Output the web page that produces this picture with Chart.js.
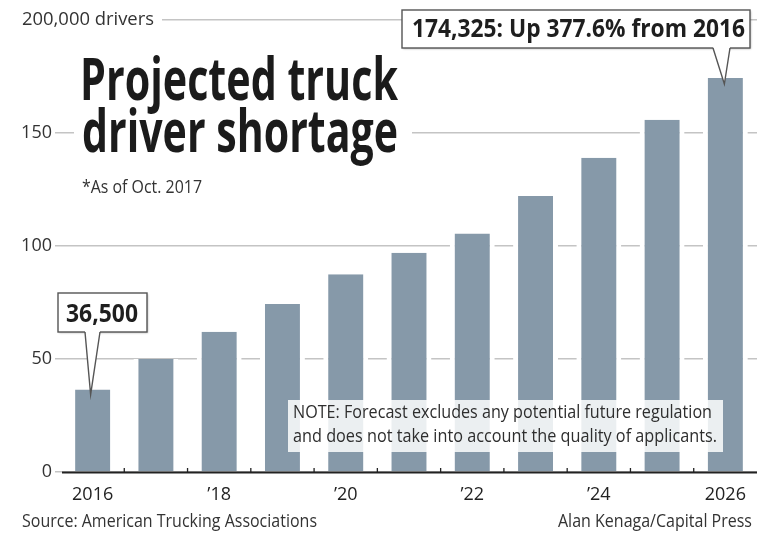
<!DOCTYPE html>
<html>
<head>
<meta charset="utf-8">
<title>Projected truck driver shortage</title>
<script src="https://cdn.jsdelivr.net/npm/chart.js@4.4.1/dist/chart.umd.min.js"></script>
<style>
	html, body { margin: 0; padding: 0; background: #fff; }
	#wrap { width: 760px; height: 533px; }
</style>
</head>
<body>
<div id="wrap"><canvas id="chart" width="760" height="533"></canvas></div>
<script>
'use strict';

// shortage in thousands of drivers, as of Oct. 2017
var years = ['2016', '2017', '2018', '2019', '2020', '2021', '2022', '2023', '2024', '2025', '2026'];
var yearLabels = ['2016', '', '\u201918', '', '\u201920', '', '\u201922', '', '\u201924', '', '2026'];
var shortage = [36.5, 50, 62.1, 74.3, 87.5, 97.0, 105.5, 122.1, 139.1, 155.9, 174.325];
var yTicks = [0, 50, 100, 150, 200];

var titleLines = ['Projected truck', 'driver shortage'];
var subtitle = '*As of Oct. 2017';
var unitLabel = '200,000 drivers';
var noteLines = [
	'NOTE: Forecast excludes any potential future regulation',
	'and does not take into account the quality of applicants.'
];
var sourceText = 'Source: American Trucking Associations';
var creditText = 'Alan Kenaga/Capital Press';

var FONT = '"Open Sans", "Noto Sans", sans-serif';
var BAR_COLOR = '#8699a9';

function fmtDrivers(v) {
	return Math.round(v * 1000).toLocaleString('en-US');
}

var first = shortage[0];
var last = shortage[shortage.length - 1];
var firstCallout = fmtDrivers(first);
var lastCallout = fmtDrivers(last) + ': Up ' + ((last / first - 1) * 100).toFixed(1) + '% from ' + years[0];

// draw text squeezed horizontally to a given width (the face is narrower than what we have)
function fitText(ctx, text, x, y, width, align) {
	var w = ctx.measureText(text).width;
	ctx.save();
	ctx.translate(x, y);
	ctx.scale(width / w, 1);
	ctx.textAlign = align || 'left';
	ctx.textBaseline = 'alphabetic';
	ctx.fillText(text, 0, 0);
	ctx.restore();
}

function drawCallout(ctx, box, tail, tip, text) {
	var bottom = box.y + box.h;

	ctx.save();
	ctx.fillStyle = '#fff';
	ctx.shadowColor = 'rgba(0,0,0,0.28)';
	ctx.shadowBlur = 2;
	ctx.shadowOffsetX = 1;
	ctx.shadowOffsetY = 1;
	ctx.fillRect(box.x, box.y, box.w, box.h);
	ctx.restore();

	ctx.save();
	ctx.strokeStyle = '#555';
	ctx.lineWidth = 1.4;
	ctx.strokeRect(box.x, box.y, box.w, box.h);

	// pointer
	ctx.fillStyle = '#fff';
	ctx.beginPath();
	ctx.moveTo(tail[0], bottom - 1);
	ctx.lineTo(tip.x, tip.y);
	ctx.lineTo(tail[1], bottom - 1);
	ctx.closePath();
	ctx.fill();
	ctx.beginPath();
	ctx.moveTo(tail[0], bottom);
	ctx.lineTo(tip.x, tip.y);
	ctx.lineTo(tail[1], bottom);
	ctx.stroke();

	ctx.fillStyle = '#1e1e1e';
	ctx.font = 'bold 25px ' + FONT;
	fitText(ctx, text, box.tx, box.ty, box.tw);
	ctx.restore();
}

var decorations = {
	id: 'decorations',
	afterDatasetsDraw: function(chart) {
		var ctx = chart.ctx;
		var area = chart.chartArea;
		var x = chart.scales.x;
		var y = chart.scales.y;
		var i, bx;

		ctx.save();

		// baseline with small upward ticks between the years
		ctx.strokeStyle = '#222';
		ctx.lineWidth = 2;
		ctx.beginPath();
		ctx.moveTo(area.left + 1, area.bottom + 0.5);
		ctx.lineTo(area.right, area.bottom + 0.5);
		ctx.stroke();
		ctx.lineWidth = 1.3;
		ctx.beginPath();
		for (i = 1; i < years.length; i++) {
			bx = (x.getPixelForValue(i - 1) + x.getPixelForValue(i)) / 2;
			ctx.moveTo(bx, area.bottom);
			ctx.lineTo(bx, area.bottom - 4);
		}
		ctx.stroke();

		// unit label on the top gridline
		ctx.fillStyle = '#fff';
		ctx.fillRect(0, 4, 162, 30);
		ctx.fillStyle = '#333';
		ctx.font = '18px ' + FONT;
		fitText(ctx, unitLabel, 22, 25, 132);

		// title block
		ctx.fillStyle = '#fff';
		ctx.fillRect(74, 50, 338, 118);
		ctx.fillStyle = '#1b1b1b';
		ctx.font = 'bold 59px ' + FONT;
		fitText(ctx, titleLines[0], 80, 100, 318);
		fitText(ctx, titleLines[1], 82, 152, 316);
		ctx.fillStyle = '#333';
		ctx.font = '18px ' + FONT;
		fitText(ctx, subtitle, 82, 193, 120);

		// note over the bars
		ctx.fillStyle = 'rgba(255,255,255,0.84)';
		ctx.fillRect(288, 400, 435, 52);
		ctx.fillStyle = '#2e2e2e';
		ctx.font = '18px ' + FONT;
		fitText(ctx, noteLines[0], 293, 418, 419);
		fitText(ctx, noteLines[1], 293, 442, 424);

		// callouts
		var px0 = x.getPixelForValue(0);
		drawCallout(ctx,
			{x: 58, y: 293, w: 89, h: 39, tx: 66, ty: 322, tw: 72},
			[85, 100],
			{x: px0 - 2, y: y.getPixelForValue(first) + 5},
			firstCallout);

		var pxN = x.getPixelForValue(years.length - 1);
		drawCallout(ctx,
			{x: 402, y: 10, w: 348, h: 38, tx: 412, ty: 37, tw: 333},
			[713, 730],
			{x: pxN - 1, y: y.getPixelForValue(last) + 6},
			lastCallout);

		// footer
		ctx.fillStyle = '#333';
		ctx.font = '19px ' + FONT;
		fitText(ctx, sourceText, 22, 527, 295);
		fitText(ctx, creditText, 752, 527, 194, 'right');

		ctx.restore();
	}
};

var chart = new Chart(document.getElementById('chart').getContext('2d'), {
	type: 'bar',
	data: {
		labels: years,
		datasets: [{
			data: shortage,
			backgroundColor: BAR_COLOR,
			borderColor: '#fff',
			borderWidth: {left: 5, right: 5, top: 0, bottom: 0},
			barPercentage: 0.71,
			categoryPercentage: 1
		}]
	},
	options: {
		responsive: false,
		animation: false,
		layout: {padding: {top: 20, right: 3, left: 0, bottom: 0}},
		plugins: {
			legend: {display: false},
			tooltip: {enabled: false}
		},
		scales: {
			x: {
				grid: {display: false, drawTicks: false},
				border: {display: false},
				ticks: {
					autoSkip: false,
					maxRotation: 0,
					padding: 12,
					color: '#222',
					font: {family: FONT, size: 18},
					callback: function(value, index) {
						return yearLabels[index];
					}
				},
				afterFit: function(scale) {
					scale.height = 61;
				}
			},
			y: {
				min: yTicks[0],
				max: yTicks[yTicks.length - 1],
				afterBuildTicks: function(scale) {
					scale.ticks = yTicks.map(function(v) { return {value: v}; });
				},
				grid: {color: '#c4c4c4', lineWidth: 1.5, tickLength: 6},
				border: {display: false},
				ticks: {
					padding: 3,
					color: '#333',
					font: {family: FONT, size: 18},
					callback: function(value) {
						return value === yTicks[yTicks.length - 1] ? '' : String(value);
					}
				},
				afterFit: function(scale) {
					scale.width = 61;
				}
			}
		}
	},
	plugins: [decorations]
});
</script>
</body>
</html>
